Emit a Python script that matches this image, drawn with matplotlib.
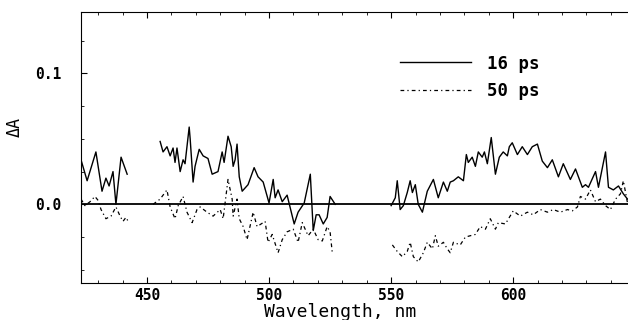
import matplotlib
matplotlib.use("Agg")
import matplotlib.pyplot as plt
from matplotlib.ticker import MultipleLocator
import numpy as np

# 16 ps transient spectrum, three measured segments (nm, dA)
wl16_a = [423.0, 425.5, 429.1, 431.6, 433.2, 434.5, 436.1, 437.3, 439.4, 441.9]
da16_a = [0.034, 0.018, 0.040, 0.010, 0.020, 0.014, 0.025, 0.000, 0.036, 0.023]

wl16_b = [455.4, 456.6, 458.2, 459.5, 460.7, 461.5, 462.3, 463.6, 464.8, 465.6,
          467.3, 467.7, 468.9, 469.7, 471.4, 473.0, 475.0, 476.7, 479.1, 480.8,
          481.6, 483.2, 484.5, 485.3, 486.1, 486.9, 487.8, 489.0, 491.4, 493.9,
          495.5, 497.6, 500.0, 501.7, 502.5, 503.7, 505.4, 507.4, 510.3, 511.9,
          514.4, 516.9, 518.1, 519.3, 520.5, 522.2, 523.8, 525.0, 527.1]
da16_b = [0.048, 0.040, 0.044, 0.037, 0.043, 0.032, 0.043, 0.025, 0.034, 0.031,
          0.059, 0.050, 0.017, 0.029, 0.042, 0.037, 0.035, 0.023, 0.025, 0.040,
          0.032, 0.052, 0.044, 0.029, 0.034, 0.046, 0.021, 0.010, 0.015, 0.028,
          0.021, 0.017, 0.001, 0.019, 0.005, 0.011, 0.002, 0.007, -0.015, -0.006,
          0.001, 0.023, -0.020, -0.008, -0.008, -0.015, -0.010, 0.006, 0.000]

wl16_c = [550.0, 551.7, 552.5, 553.7, 555.0, 556.6, 557.8, 558.7, 559.9, 561.1,
          562.8, 564.8, 567.3, 569.3, 571.4, 573.0, 574.2, 575.5, 577.5, 579.6,
          580.8, 581.6, 583.2, 584.5, 585.7, 587.3, 588.2, 589.4, 591.0, 592.7,
          594.3, 595.9, 597.6, 598.4, 599.6, 601.7, 603.7, 605.8, 607.8, 609.9,
          611.9, 614.0, 616.0, 618.5, 620.5, 623.4, 625.5, 628.3, 629.6, 630.8,
          633.7, 634.9, 637.8, 639.0, 641.0, 643.1, 645.1, 646.8]
da16_c = [-0.001, 0.005, 0.018, -0.004, -0.001, 0.009, 0.018, 0.009, 0.015, 0.000,
          -0.006, 0.010, 0.019, 0.005, 0.017, 0.010, 0.017, 0.018, 0.021, 0.018,
          0.038, 0.032, 0.036, 0.029, 0.040, 0.036, 0.040, 0.031, 0.051, 0.023,
          0.036, 0.040, 0.037, 0.044, 0.047, 0.038, 0.044, 0.038, 0.044, 0.046,
          0.033, 0.028, 0.034, 0.021, 0.031, 0.019, 0.027, 0.013, 0.015, 0.013,
          0.025, 0.013, 0.040, 0.013, 0.011, 0.014, 0.008, 0.004]

# 50 ps transient spectrum
wl50_a = [423.0, 424.6, 426.7, 428.7, 430.0, 431.2, 433.2, 435.3, 437.3, 439.0,
          440.2, 441.4, 442.3]
da50_a = [0.004, -0.001, 0.002, 0.006, 0.003, -0.004, -0.011, -0.009, -0.002, -0.009,
          -0.013, -0.010, -0.013]

wl50_b = [452.5, 455.4, 458.2, 459.5, 461.5, 462.8, 464.8, 466.4, 468.5, 470.5,
          471.8, 474.6, 477.1, 480.0, 481.2, 483.2, 484.9, 485.3, 486.9, 487.8,
          489.4, 491.0, 493.5, 495.1, 498.4, 499.6, 501.3, 503.7, 505.4, 507.4,
          509.9, 511.9, 513.6, 516.0, 518.1, 520.1, 521.8, 523.8, 525.0, 525.9]
da50_b = [0.000, 0.004, 0.011, -0.002, -0.011, -0.001, 0.006, -0.006, -0.014, -0.004,
          -0.002, -0.006, -0.009, -0.004, -0.011, 0.019, 0.004, -0.009, 0.004, -0.011,
          -0.017, -0.027, -0.006, -0.017, -0.013, -0.029, -0.023, -0.037, -0.027, -0.021,
          -0.019, -0.029, -0.014, -0.024, -0.019, -0.027, -0.028, -0.017, -0.021, -0.037]

wl50_c = [550.5, 552.5, 554.6, 556.6, 557.8, 559.1, 561.1, 563.2, 564.8, 566.9,
          568.1, 569.3, 571.4, 573.0, 574.2, 575.5, 578.3, 580.4, 582.4, 584.5,
          586.5, 588.6, 590.6, 592.7, 593.9, 596.8, 600.0, 602.9, 605.8, 608.2,
          611.1, 614.0, 616.4, 619.3, 622.2, 624.2, 626.3, 627.5, 629.6, 631.6,
          633.7, 635.7, 637.8, 639.8, 641.9, 643.9, 645.1, 646.8]
da50_c = [-0.031, -0.036, -0.040, -0.036, -0.029, -0.040, -0.044, -0.037, -0.029, -0.034,
          -0.024, -0.032, -0.029, -0.034, -0.037, -0.029, -0.031, -0.025, -0.024, -0.023,
          -0.017, -0.019, -0.011, -0.019, -0.014, -0.015, -0.005, -0.009, -0.006, -0.008,
          -0.004, -0.006, -0.004, -0.006, -0.004, -0.005, -0.002, 0.006, 0.004, 0.011,
          0.002, 0.004, -0.001, -0.004, 0.004, 0.008, 0.018, 0.001]

xticks = [450, 500, 550, 600]
yticks = [0.0, 0.1]
ytick_labels = ["0.0", "0.1"]

plt.rcParams['font.family'] = ['DejaVu Sans Mono']
plt.rcParams['font.weight'] = 'bold'

fig = plt.figure(figsize=(6.28, 3.2), dpi=100)
ax = fig.add_axes([0.129, 0.116, 0.871, 0.847])

dash = (0, (3, 2.5, 1, 2.5))
for i, (w, d) in enumerate([(wl16_a, da16_a), (wl16_b, da16_b), (wl16_c, da16_c)]):
    ax.plot(w, d, color='black', lw=1.0, label='16 ps' if i == 0 else None)
for i, (w, d) in enumerate([(wl50_a, da50_a), (wl50_b, da50_b), (wl50_c, da50_c)]):
    ax.plot(w, d, color='black', lw=0.9, linestyle=dash, label='50 ps' if i == 0 else None)

ax.axhline(0, color='black', lw=1.3)

ax.set_xlim(423, 647)
ax.set_ylim(-0.06, 0.147)
ax.set_xticks(xticks)
ax.set_xticklabels([str(t) for t in xticks])
ax.set_yticks(yticks)
ax.set_yticklabels(ytick_labels)
ax.xaxis.set_minor_locator(MultipleLocator(10))
ax.yaxis.set_minor_locator(MultipleLocator(0.025))
ax.tick_params(which='both', direction='in', top=True, labelsize=10.5)
ax.tick_params(axis='x', pad=4)
ax.tick_params(axis='y', pad=14)
ax.tick_params(which='major', length=4)
ax.tick_params(which='minor', length=2.5)
ax.spines['right'].set_visible(False)

ax.set_xlabel("Wavelength, nm", fontsize=13)
ax.xaxis.set_label_coords(0.473, -0.075)
ax.set_ylabel("ΔA", fontsize=12)
ax.yaxis.set_label_coords(-0.105, 0.576)

ax.legend(loc='upper left', bbox_to_anchor=(0.555, 0.9), frameon=False,
          handlelength=4.1, handletextpad=0.9, labelspacing=0.55,
          prop={'size': 12.5, 'weight': 'bold'})

fig.savefig("out.png", dpi=100)
